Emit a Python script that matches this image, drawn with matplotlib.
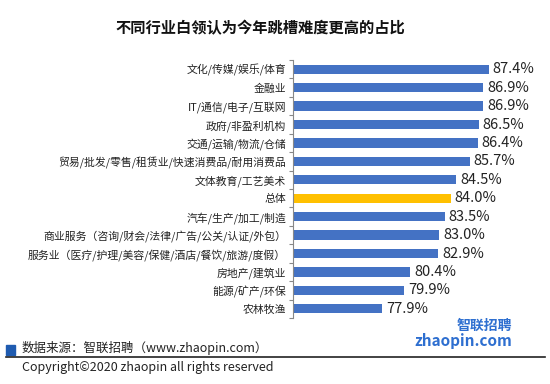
import matplotlib.pyplot as plt
from matplotlib.patches import Rectangle
from matplotlib.lines import Line2D

plt.rcParams["font.family"] = ["Noto Sans CJK SC", "DejaVu Sans"]

industries = [
    "文化/传媒/娱乐/体育",
    "金融业",
    "IT/通信/电子/互联网",
    "政府/非盈利机构",
    "交通/运输/物流/仓储",
    "贸易/批发/零售/租赁业/快速消费品/耐用消费品",
    "文体教育/工艺美术",
    "总体",
    "汽车/生产/加工/制造",
    "商业服务（咨询/财会/法律/广告/公关/认证/外包）",
    "服务业（医疗/护理/美容/保健/酒店/餐饮/旅游/度假）",
    "房地产/建筑业",
    "能源/矿产/环保",
    "农林牧渔",
]
shares = [87.4, 86.9, 86.9, 86.5, 86.4, 85.7, 84.5, 84.0, 83.5, 83.0, 82.9, 80.4, 79.9, 77.9]

blue = "#4472C4"
yellow = "#FFC000"

fig = plt.figure(figsize=(5.5, 3.84), dpi=100)
ax = fig.add_axes([293 / 550, 1 - 318 / 384, 225 / 550, 258 / 384])

base = 70
ypos = list(range(len(industries)))
colors = [yellow if name == "总体" else blue for name in industries]
ax.barh(ypos, [v - base for v in shares], left=base, height=0.5, color=colors)

for y, v in zip(ypos, shares):
    ax.text(v + 0.35, y, f"{v:.1f}%", va="center", ha="left", fontsize=10.5, color="#222222")

ax.set_xlim(base, 90)
ax.set_ylim(len(industries) - 0.5, -0.5)
ax.set_yticks(ypos)
ax.set_yticklabels(industries, fontsize=7.8, color="#222222")
ax.set_yticks([i - 0.5 for i in range(len(industries) + 1)], minor=True)
ax.tick_params(axis="y", which="major", length=0, pad=5)
ax.tick_params(axis="y", which="minor", length=3, color="#888888", width=0.8)
ax.set_xticks([])
for side in ["top", "right", "bottom"]:
    ax.spines[side].set_visible(False)
ax.spines["left"].set_color("#888888")
ax.spines["left"].set_linewidth(0.8)

fig.text(260 / 550, 1 - 28 / 384, "不同行业白领认为今年跳槽难度更高的占比",
         ha="center", va="center", fontsize=11, fontweight="bold", color="#111111")

# 底部来源与版权
fig.patches.append(Rectangle((6 / 550, 1 - 355 / 384), 9 / 550, 10 / 384,
                             transform=fig.transFigure, color="#1F5BB0"))
fig.text(22 / 550, 1 - 348 / 384, "数据来源：智联招聘（www.zhaopin.com）",
         ha="left", va="center", fontsize=9, color="#222222")
fig.lines.append(Line2D([6 / 550, 545 / 550], [1 - 357 / 384, 1 - 357 / 384],
                        transform=fig.transFigure, color="#222222", linewidth=1.2))
fig.text(22 / 550, 1 - 367 / 384, "Copyright©2020 zhaopin all rights reserved",
         ha="left", va="center", fontsize=9, color="#222222")

fig.text(512 / 550, 1 - 326 / 384, "智联招聘", ha="right", va="center",
         fontsize=10, fontweight="bold", color="#2E6FD0")
fig.text(512 / 550, 1 - 341 / 384, "zhaopin.com", ha="right", va="center",
         fontsize=11, fontweight="bold", color="#2E6FD0")

fig.savefig("out.png", dpi=100)
